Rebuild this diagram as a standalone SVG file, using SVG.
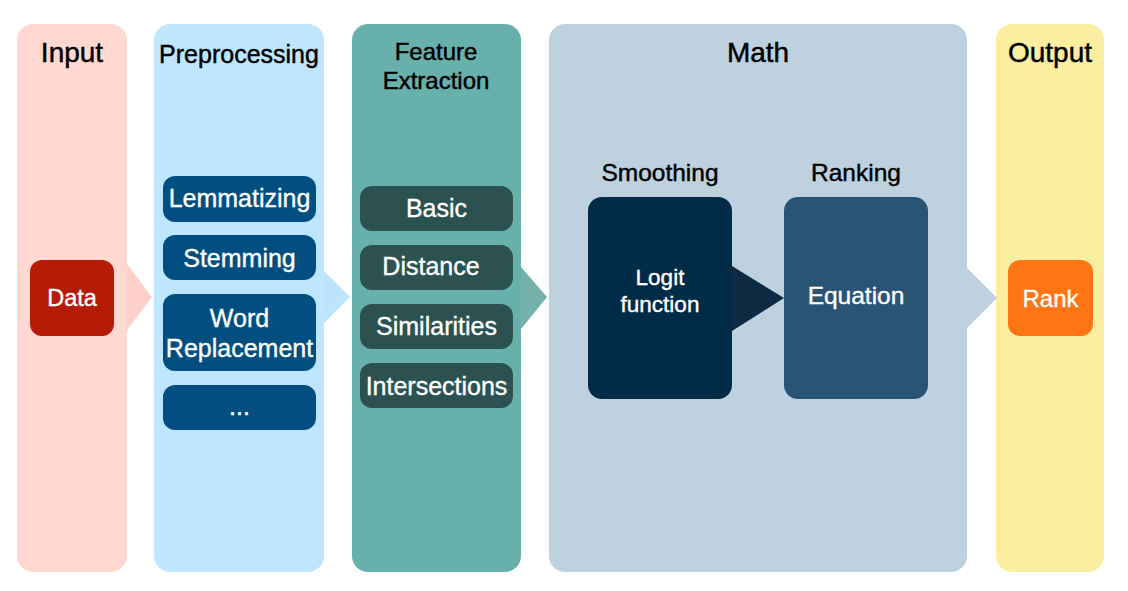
<svg xmlns="http://www.w3.org/2000/svg" width="1128" height="591" viewBox="0 0 1128 591">
<style>
.h{font-family:"Liberation Sans",Arial,sans-serif;fill:#000;stroke:#000;stroke-width:0.45;text-anchor:middle}
.w{font-family:"Liberation Sans",Arial,sans-serif;fill:#fff;stroke:#fff;stroke-width:0.35;text-anchor:middle}
</style>
<rect width="1128" height="591" fill="#fff"/>
<g id="input">
<rect x="17" y="24" width="110" height="548" rx="16" fill="#FFD8D2"/>
<text class="h" x="72" y="62" font-size="28">Input</text>
</g>
<g id="preprocessing">
<rect x="154" y="24" width="170" height="548" rx="16" fill="#BFE6FF"/>
<text class="h" x="239" y="63" font-size="25">Preprocessing</text>
</g>
<g id="feature">
<rect x="352" y="24" width="169" height="548" rx="16" fill="#68B0AB"/>
<text class="h" x="436" y="60" font-size="24">Feature</text>
<text class="h" x="436" y="89" font-size="24">Extraction</text>
</g>
<g id="math">
<rect x="549" y="24" width="418" height="548" rx="16" fill="#BED1DF"/>
<text class="h" x="758" y="62" font-size="28">Math</text>
<text class="h" x="660" y="181" font-size="24.5">Smoothing</text>
<text class="h" x="856" y="181" font-size="24.5">Ranking</text>
</g>
<g id="output">
<rect x="996" y="24" width="108" height="548" rx="16" fill="#FBEEA0"/>
<text class="h" x="1050" y="62" font-size="28">Output</text>
</g>
<g id="connectors">
<polygon points="127,264 152,297 127,330" fill="#FDD0C9"/>
<polygon points="324,271 350,297 324,323" fill="#BDE4FD"/>
<polygon points="521,267 547,297 521,329" fill="#73B1AA"/>
<polygon points="732,266 784,298 732,331" fill="#0C2B43"/>
<polygon points="967,268 997,298 967,328" fill="#BFD0DE"/>
</g>
<g id="data">
<rect x="30" y="260" width="84" height="76" rx="12" fill="#B51B07"/>
<text class="w" x="72" y="306" font-size="23.5">Data</text>
</g>
<g id="lemmatizing">
<rect x="163" y="176" width="153" height="46" rx="12" fill="#014F80"/>
<text class="w" x="239.5" y="207" font-size="25">Lemmatizing</text>
</g>
<g id="stemming">
<rect x="163" y="235" width="153" height="45" rx="12" fill="#014F80"/>
<text class="w" x="239.5" y="267" font-size="25">Stemming</text>
</g>
<g id="wordreplacement">
<rect x="163" y="294" width="153" height="77" rx="12" fill="#014F80"/>
<text class="w" x="239.5" y="327" font-size="25">Word</text>
<text class="w" x="239.5" y="357" font-size="25">Replacement</text>
</g>
<g id="more">
<rect x="163" y="385" width="153" height="45" rx="12" fill="#014F80"/>
<text class="w" x="239.5" y="415" font-size="25">...</text>
</g>
<g id="basic">
<rect x="360" y="186" width="153" height="45" rx="12" fill="#2B5251"/>
<text class="w" x="436.5" y="217" font-size="25">Basic</text>
</g>
<g id="distance">
<rect x="360" y="245" width="153" height="45" rx="12" fill="#2B5251"/>
<text class="w" x="431" y="275" font-size="25">Distance</text>
</g>
<g id="similarities">
<rect x="360" y="304" width="153" height="45" rx="12" fill="#2B5251"/>
<text class="w" x="436.5" y="335" font-size="25">Similarities</text>
</g>
<g id="intersections">
<rect x="360" y="363" width="153" height="45" rx="12" fill="#2B5251"/>
<text class="w" x="436.5" y="395" font-size="25">Intersections</text>
</g>
<g id="logit">
<rect x="588" y="197" width="144" height="202" rx="14" fill="#022B47"/>
<text class="w" x="660" y="285" font-size="22.5">Logit</text>
<text class="w" x="660" y="312" font-size="22.5">function</text>
</g>
<g id="equation">
<rect x="784" y="197" width="144" height="202" rx="14" fill="#2A5474"/>
<text class="w" x="856" y="304" font-size="24.5">Equation</text>
</g>
<g id="rank">
<rect x="1008" y="260" width="85" height="76" rx="12" fill="#FF7415"/>
<text class="w" x="1050.5" y="307" font-size="24">Rank</text>
</g>
</svg>
